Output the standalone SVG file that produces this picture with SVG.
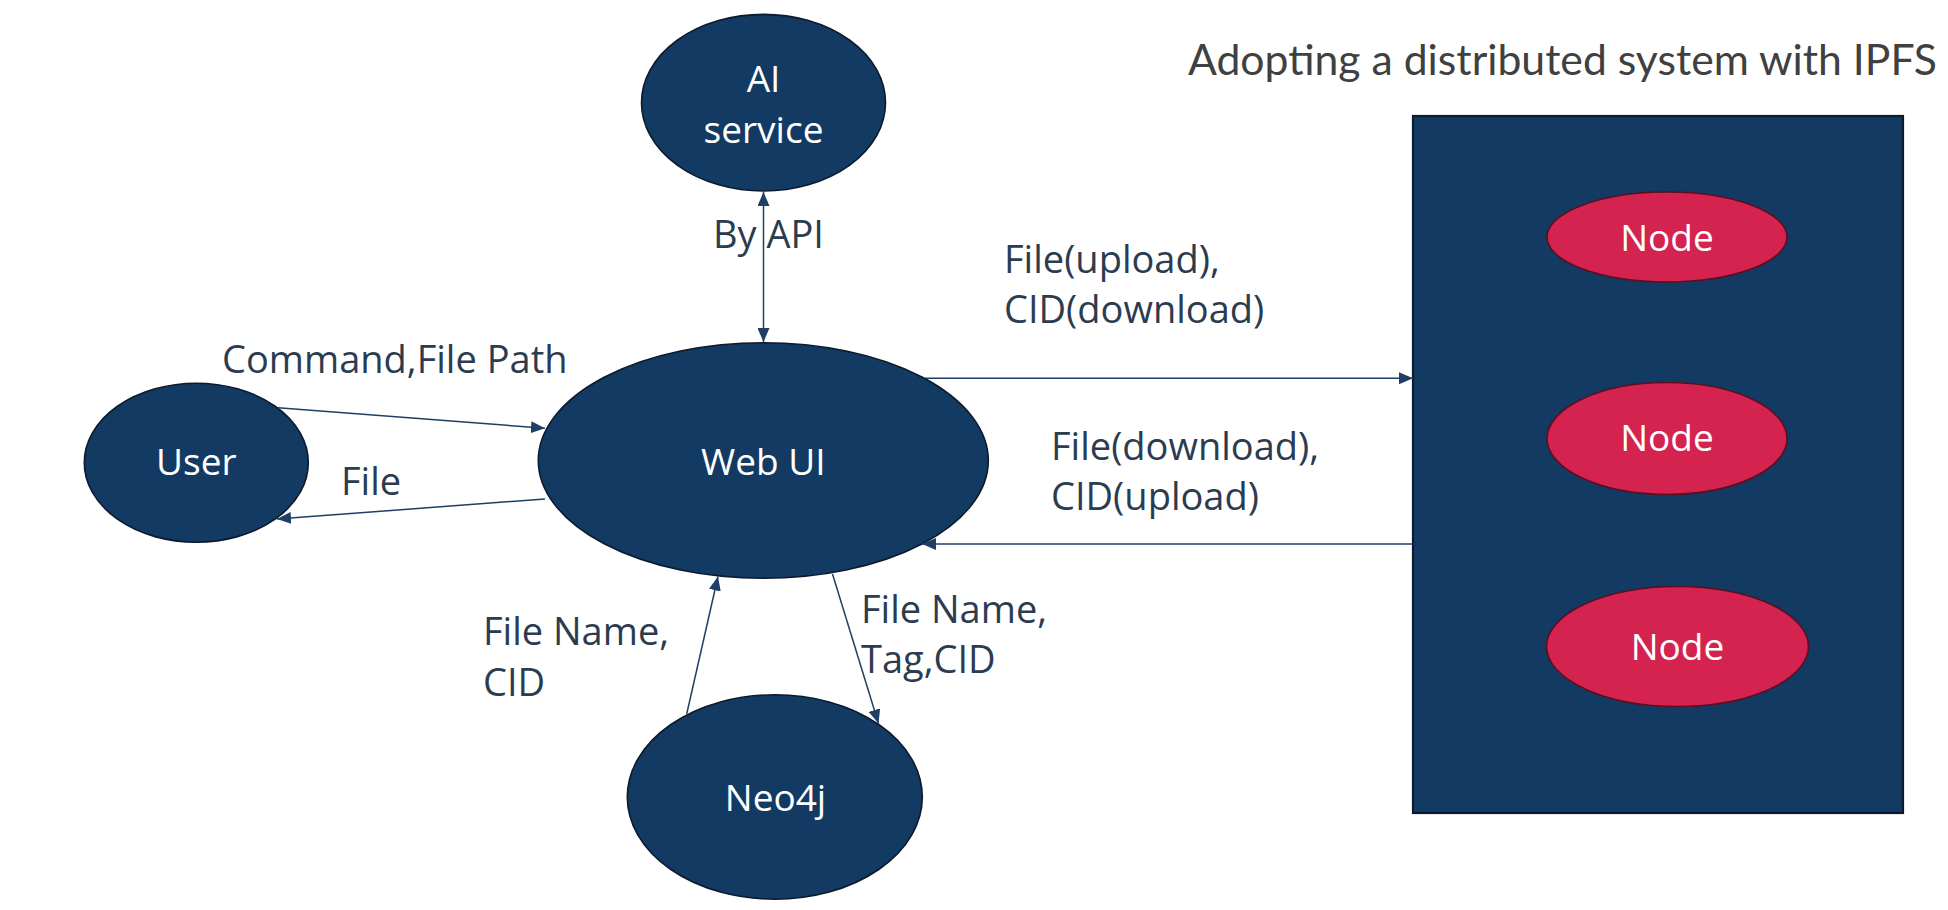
<svg xmlns="http://www.w3.org/2000/svg" width="1948" height="910" viewBox="0 0 1948 910">
  <style>
    .node { fill: #133a62; stroke: #0b1a2c; stroke-width: 1.6; }
    .ipfs { fill: #d5234f; stroke: #5c0e22; stroke-width: 1.6; }
    .box { fill: #133a62; stroke: #0b1a2c; stroke-width: 2.2; }
    .nt { font-family: "Open Sans", "Noto Sans", sans-serif; font-size: 37px; fill: #ffffff; text-anchor: middle; }
    .lbl { font-family: "Open Sans", "Noto Sans", sans-serif; font-size: 38px; fill: #2c3c50; }
    .title { font-family: Lato, "Open Sans", sans-serif; font-size: 42px; fill: #404040; }
    .conn { stroke: #1f3f66; stroke-width: 1.5; fill: none; }
  </style>
  <defs>
    <marker id="arr" viewBox="0 0 14 12" refX="14" refY="6" markerWidth="14" markerHeight="12" markerUnits="userSpaceOnUse" orient="auto-start-reverse">
      <path d="M0,0 L14,6 L0,12 Z" fill="#1f3f66"/>
    </marker>
  </defs>
  <rect width="1948" height="910" fill="#ffffff"/>

  <text class="title" x="1188" y="75" textLength="749" lengthAdjust="spacingAndGlyphs">Adopting a distributed system with IPFS</text>

  <g id="ipfs-system">
    <rect class="box" x="1413" y="116" width="490" height="697"/>
  </g>
  <g id="node1">
    <ellipse class="ipfs" cx="1667" cy="237" rx="120" ry="45"/>
    <text class="nt" x="1667" y="251">Node</text>
  </g>
  <g id="node2">
    <ellipse class="ipfs" cx="1667" cy="438.5" rx="120" ry="56"/>
    <text class="nt" x="1667" y="451">Node</text>
  </g>
  <g id="node3">
    <ellipse class="ipfs" cx="1677.5" cy="646.5" rx="131" ry="60"/>
    <text class="nt" x="1677.5" y="660">Node</text>
  </g>

  <g id="ai-service">
    <ellipse class="node" cx="763.5" cy="102.7" rx="122" ry="88.3"/>
    <text class="nt" x="763.5" y="91.7">AI</text>
    <text class="nt" x="763.5" y="142.7">service</text>
  </g>
  <g id="user">
    <ellipse class="node" cx="196.3" cy="462.7" rx="112" ry="79.5"/>
    <text class="nt" x="196.3" y="475">User</text>
  </g>
  <g id="web-ui">
    <ellipse class="node" cx="763.3" cy="460.5" rx="225" ry="117.8"/>
    <text class="nt" x="763.3" y="475">Web UI</text>
  </g>
  <g id="neo4j">
    <ellipse class="node" cx="774.8" cy="797" rx="147.5" ry="102.2"/>
    <text class="nt" x="775.5" y="810.7">Neo4j</text>
  </g>

  <g id="connectors">
    <line class="conn" x1="763.5" y1="192" x2="763.5" y2="342" marker-start="url(#arr)" marker-end="url(#arr)"/>
    <line class="conn" x1="278" y1="407.7" x2="545" y2="428.3" marker-end="url(#arr)"/>
    <line class="conn" x1="545" y1="499" x2="277" y2="519" marker-end="url(#arr)"/>
    <line class="conn" x1="925" y1="378.3" x2="1413" y2="378.3" marker-end="url(#arr)"/>
    <line class="conn" x1="1413" y1="544" x2="922" y2="544" marker-end="url(#arr)"/>
    <line class="conn" x1="686.7" y1="714" x2="718" y2="576.5" marker-end="url(#arr)"/>
    <line class="conn" x1="832.5" y1="574" x2="878.5" y2="723.5" marker-end="url(#arr)"/>
  </g>

  <g id="labels">
    <text class="lbl" x="713" y="248">By API</text>
    <text class="lbl" x="222" y="373.3">Command,File Path</text>
    <text class="lbl" x="341" y="495">File</text>
    <text class="lbl" x="1004" y="273.3">File(upload),</text>
    <text class="lbl" x="1004" y="323.3">CID(download)</text>
    <text class="lbl" x="1051" y="460">File(download),</text>
    <text class="lbl" x="1051" y="510">CID(upload)</text>
    <text class="lbl" x="483" y="645">File Name,</text>
    <text class="lbl" x="483" y="696">CID</text>
    <text class="lbl" x="861" y="623.3">File Name,</text>
    <text class="lbl" x="861" y="673.3">Tag,CID</text>
  </g>
</svg>
